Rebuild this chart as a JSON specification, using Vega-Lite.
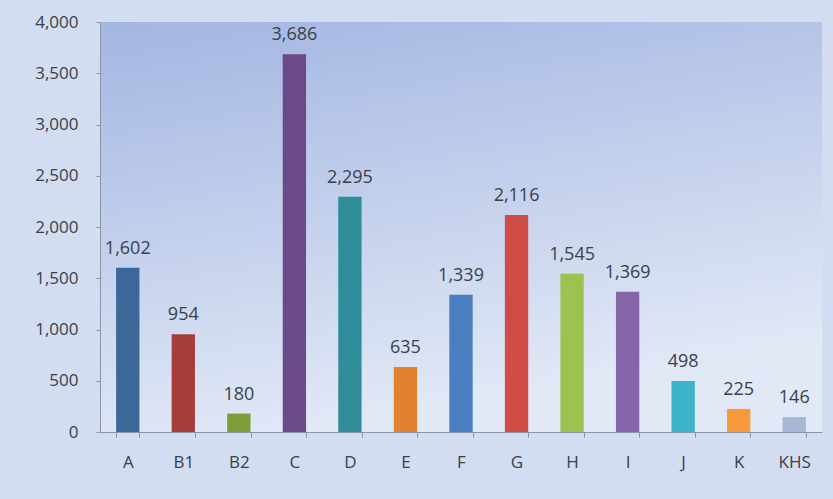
{
  "$schema": "https://vega.github.io/schema/vega-lite/v6.json",
  "autosize": {"type": "none"},
  "padding": {"left": 100, "top": 22, "right": 11, "bottom": 67},
  "width": 722,
  "height": 410,
  "background": "#d3ddf1",
  "config": {
    "view": {
      "stroke": null,
      "fill": {"gradient": "linear", "x1": 0, "y1": 0, "x2": 0.3, "y2": 1, "stops": [{"offset": 0, "color": "#a3b6e2"}, {"offset": 1, "color": "#e2e9f6"}]}
    },
    "font": "Open Sans",
    "axis": {"labelFont": "Open Sans", "labelColor": "#3a3f4a", "labelFontSize": 17, "domainColor": "#8a94a6", "tickColor": "#8a94a6", "grid": false}
  },
  "data": {
    "values": [
      {"cat": "A", "value": 1602, "color": "#3b6799"},
      {"cat": "B1", "value": 954, "color": "#a63d3a"},
      {"cat": "B2", "value": 180, "color": "#7f9c3a"},
      {"cat": "C", "value": 3686, "color": "#6b4a8a"},
      {"cat": "D", "value": 2295, "color": "#2f8c99"},
      {"cat": "E", "value": 635, "color": "#e2822e"},
      {"cat": "F", "value": 1339, "color": "#4a7ec0"},
      {"cat": "G", "value": 2116, "color": "#cf4c47"},
      {"cat": "H", "value": 1545, "color": "#9cc250"},
      {"cat": "I", "value": 1369, "color": "#8666a9"},
      {"cat": "J", "value": 498, "color": "#3db3c9"},
      {"cat": "K", "value": 225, "color": "#f79a3c"},
      {"cat": "KHS", "value": 146, "color": "#a8b7d6"}
    ]
  },
  "encoding": {
    "x": {
      "field": "cat", "type": "nominal", "sort": null,
      "scale": {"paddingInner": 0.58, "paddingOuter": 0.29},
      "axis": {"title": null, "labelAngle": 0, "labelPadding": 17, "tickBand": "extent", "tickSize": 5}
    },
    "y": {
      "field": "value", "type": "quantitative",
      "scale": {"domain": [0, 4000], "nice": false},
      "axis": {"title": null, "values": [0, 500, 1000, 1500, 2000, 2500, 3000, 3500, 4000], "format": ",.0f", "tickSize": 4, "labelPadding": 18}
    }
  },
  "layer": [
    {
      "mark": {"type": "bar"},
      "encoding": {"color": {"field": "color", "type": "nominal", "scale": null, "legend": null}}
    },
    {
      "mark": {"type": "text", "baseline": "bottom", "dy": -10, "fontSize": 18, "font": "Open Sans", "color": "#3a3f4a"},
      "encoding": {"text": {"field": "value", "type": "quantitative", "format": ",.0f"}}
    }
  ]
}
